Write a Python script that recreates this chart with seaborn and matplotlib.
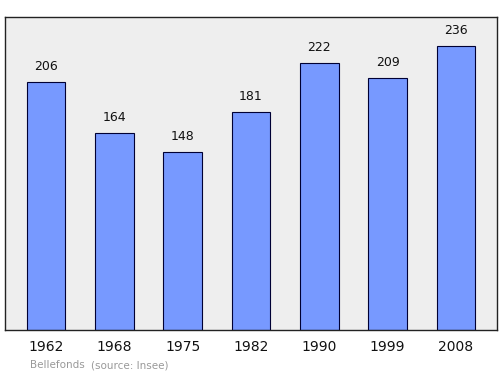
import matplotlib
matplotlib.use("Agg")
import matplotlib.pyplot as plt
import seaborn as sns
import pandas as pd

years = ["1962", "1968", "1975", "1982", "1990", "1999", "2008"]
population = [206, 164, 148, 181, 222, 209, 236]

df = pd.DataFrame({"year": years, "pop": population})

sns.set_style("white")
plt.rcParams['font.family'] = ['DejaVu Sans']

fig = plt.figure(figsize=(5, 3.74), dpi=100)
ax = fig.add_axes([0.01, 1 - 330/374, 0.984, (330-17)/374])
ax.set_facecolor("#eeeeee")

sns.barplot(data=df, x="year", y="pop", color="#7799ff", width=0.57,
            edgecolor="#000033", linewidth=0.8, saturation=1, ax=ax)

ax.set_xlim(-0.6, 6.6)
ax.set_ylim(0, 260)
ax.set_yticks([])
ax.set_xlabel("")
ax.set_ylabel("")
ax.tick_params(axis="x", length=0, labelsize=10, pad=7, labelcolor="#111111")
for s in ax.spines.values():
    s.set_color("#222222")
    s.set_linewidth(1.0)

for i, v in enumerate(population):
    ax.annotate(str(v), (i, v), xytext=(0, 6.5), textcoords="offset points",
                ha="center", va="bottom", fontsize=9, color="#111111")

fig.text(30/500, 1 - 365/374, "Bellefonds", fontsize=7.5, color="#999999",
         ha="left", va="center")
fig.text(91/500, 1 - 365/374, "(source: Insee)", fontsize=7.5, color="#999999",
         ha="left", va="center")

fig.savefig("out.png", dpi=100)
